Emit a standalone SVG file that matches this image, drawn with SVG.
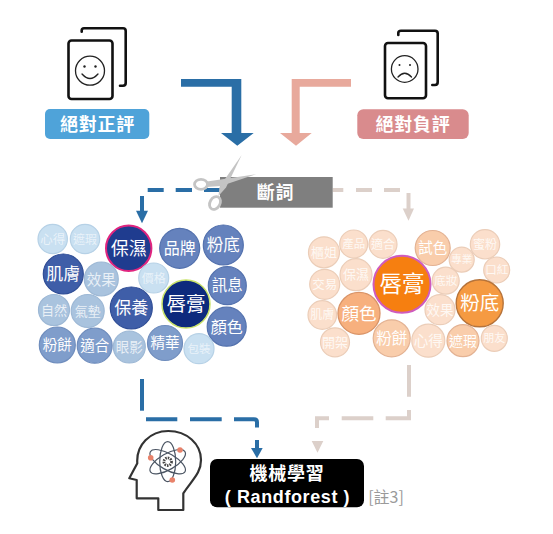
<svg xmlns="http://www.w3.org/2000/svg" width="553" height="534" viewBox="0 0 553 534">
<style>
text{font-family:"Noto Sans CJK TC","Noto Sans CJK SC","Liberation Sans",sans-serif;text-anchor:middle;fill:#fff}
.lab{font-size:18px;font-weight:700;letter-spacing:.8px}
.card{fill:none;stroke:#111;stroke-width:2.6;stroke-linecap:round;stroke-linejoin:round}
.face{fill:none;stroke:#222;stroke-width:1.3;stroke-linecap:round}
.bd{fill:none;stroke:#2a6ea6;stroke-width:4}
.pd{fill:none;stroke:#dcd0ca;stroke-width:4}
.bh{fill:#2a6ea6}.ph{fill:#dcd0ca}
.l0 circle{fill:#0d2a7d;stroke:#c9e36a;stroke-width:1.5}
.l1 circle{fill:#1f3c8f;stroke:#e0257f;stroke-width:2}
.l2 circle{fill:#3f5ea8;stroke:#304e96;stroke-width:1.2}
.l3 circle{fill:#6582bd;stroke:#5472ae;stroke-width:1.2}
.l4 circle{fill:#7f9dcb;stroke:#6f8dbd;stroke-width:1.2}
.l5 circle{fill:#a9c3de;stroke:#9db8d5;stroke-width:1.2}
.l6 circle{fill:#c9e0f1;stroke:#b6d1e6;stroke-width:1.2}
.l5 text{fill-opacity:.75}.l6 text{fill-opacity:.6}
.r0 circle{fill:#f67f10;stroke:#cf5bbd;stroke-width:2}
.r1 circle{fill:#f59a42;stroke:#b6733a;stroke-width:1.4}
.r2 circle{fill:#f7b07e;stroke:#d99468;stroke-width:1.3}
.r3 circle{fill:#f9cdab;stroke:#e3b293;stroke-width:1.2}
.r4 circle{fill:#fbdfcc;stroke:#ebcdb8;stroke-width:1.2}
.r4 text{fill-opacity:.8}
</style>
<g id="connectors">
<path class="bh" d="M181 79H241.3V133H253.7L237.3 145.7 221 133H231.7V86.7H181Z"/>
<path fill="#e8a99c" d="M351 79H291.7V133H280L296 145.7 311.7 133H299.7V86.7H351Z"/>
<path class="bd" d="M147.7 190H163.7M175.7 190H192M204 190H220"/>
<path class="bd" d="M142 196V211"/>
<path class="bh" d="M136 210.7H148L142 223.3Z"/>
<path class="pd" d="M332.7 190H343.3M356 190H372M384 190H400"/>
<path class="pd" d="M408.5 193V209"/>
<path class="ph" d="M402.7 208.5H414L408.5 220.7Z"/>
<path class="bd" d="M142 379V410.7"/>
<path class="bd" d="M146 419.3H177.3M190 419.3H221.7M234 419.3H254Q257 419.3 257 422.3V427.5"/>
<path class="bd" d="M257 440V449"/>
<path class="bh" d="M251 448H262.7L257 458.3Z"/>
<path class="pd" d="M409 365V396.7M409 410V418.3H385.7M373.3 418.3H341.7M329 418.3H317V428"/>
<path class="ph" d="M311.7 441H323.3L317.5 452.7Z"/>
</g>
<g id="node-positive">
<rect class="card" x="68.5" y="40.5" width="44" height="58.5" rx="3"/>
<path class="card" d="M81.7 31.7V30.5Q81.7 28.3 84 28.3H123Q125.7 28.3 125.7 31V83Q125.7 85.7 123 85.7H120"/>
<circle class="face" cx="90" cy="70.7" r="14.5"/>
<circle cx="84.5" cy="66.5" r="1.2" fill="#222"/><circle cx="95.5" cy="66.5" r="1.2" fill="#222"/>
<path class="face" d="M82 74Q90 83 98 74"/>
<rect x="45" y="109" width="104.3" height="30" rx="5" fill="#4fa3d9"/>
<text class="lab" x="97.5" y="130.5">絕對正評</text>
</g>
<g id="node-negative">
<rect class="card" x="385" y="43" width="41" height="55.3" rx="3"/>
<path class="card" d="M398.3 35V33Q398.3 30.7 401 30.7H435Q437.7 30.7 437.7 33.5V82Q437.7 85 435 85H432.3"/>
<circle class="face" cx="404.7" cy="69" r="13.3"/>
<circle cx="399.5" cy="65" r="1" fill="#222"/><circle cx="410" cy="65" r="1" fill="#222"/>
<path class="face" d="M398 77Q404.7 69.5 411.5 77"/>
<rect x="357.3" y="109.3" width="111.4" height="29.7" rx="6" fill="#d98b8d"/>
<text class="lab" x="413" y="130.5">絕對負評</text>
</g>
<g id="node-segment">
<rect x="220" y="177" width="112.7" height="30.7" fill="#7f7f7f"/>
<text class="lab" x="275.5" y="198.5">斷詞</text>
<g fill="#c4c4c4" stroke="none">
<path d="M241.7 155L219.5 187 218.5 196 226 187.5Z"/>
<path d="M256 174.3L207 181.5 206 187 221 186Z"/>
</g>
<ellipse cx="201" cy="184.3" rx="6.5" ry="5" fill="#fff" fill-opacity=".4" stroke="#c4c4c4" stroke-width="2.8"/>
<ellipse cx="215" cy="203" rx="6.8" ry="5" transform="rotate(-60 215 203)" fill="#fff" fill-opacity=".4" stroke="#c4c4c4" stroke-width="2.8"/>
</g>
<g id="node-cloud-positive">
<g class="l6"><circle cx="52.7" cy="239" r="14.7"/><text x="52.7" y="244" font-size="12.5">心得</text></g>
<g class="l6"><circle cx="85" cy="239" r="14.7"/><text x="85" y="244" font-size="12">遮瑕</text></g>
<g class="l1"><circle cx="128.7" cy="248.3" r="22.7"/><text x="128.7" y="254.8" font-size="18">保濕</text></g>
<g class="l3"><circle cx="179.7" cy="248.3" r="20"/><text x="179.7" y="254" font-size="16">品牌</text></g>
<g class="l3"><circle cx="223.3" cy="245" r="20"/><text x="223.3" y="251" font-size="16.5">粉底</text></g>
<g class="l2"><circle cx="63.3" cy="274" r="20"/><text x="63.3" y="280" font-size="17">肌膚</text></g>
<g class="l5"><circle cx="101.3" cy="279" r="17"/><text x="101.3" y="284.5" font-size="14.5">效果</text></g>
<g class="l6"><circle cx="153.7" cy="278" r="15"/><text x="153.7" y="282.5" font-size="12">價格</text></g>
<g class="l3"><circle cx="227.3" cy="285.7" r="19"/><text x="227.3" y="291.3" font-size="15.5">訊息</text></g>
<g class="l2"><circle cx="131.3" cy="308" r="21"/><text x="131.3" y="314" font-size="17">保養</text></g>
<g class="l0"><circle cx="186" cy="304" r="24"/><text x="186" y="310.8" font-size="19.5">唇膏</text></g>
<g class="l5"><circle cx="54" cy="310" r="15.5"/><text x="54" y="315" font-size="13">自然</text></g>
<g class="l5"><circle cx="87.7" cy="311" r="16.5"/><text x="87.7" y="316" font-size="13">氣墊</text></g>
<g class="l3"><circle cx="226.7" cy="326.7" r="19.5"/><text x="226.7" y="332.6" font-size="16">顏色</text></g>
<g class="l4"><circle cx="57.3" cy="345" r="18"/><text x="57.3" y="350.3" font-size="14.5">粉餅</text></g>
<g class="l4"><circle cx="94.7" cy="345.7" r="17.5"/><text x="94.7" y="351" font-size="14.5">適合</text></g>
<g class="l5"><circle cx="129.3" cy="347" r="16"/><text x="129.3" y="352" font-size="13.5">眼影</text></g>
<g class="l4"><circle cx="165" cy="343" r="17.5"/><text x="165" y="348.3" font-size="14.5">精華</text></g>
<g class="l6"><circle cx="199" cy="348.7" r="15"/><text x="199" y="353" font-size="11.5">包裝</text></g>
</g>
<g id="node-cloud-negative">
<g class="r4"><circle cx="324" cy="252.3" r="15.5"/><text x="324" y="257" font-size="13">櫃姐</text></g>
<g class="r4"><circle cx="353.7" cy="244" r="14"/><text x="353.7" y="248" font-size="11.5">產品</text></g>
<g class="r4"><circle cx="383" cy="244.3" r="14"/><text x="383" y="248.5" font-size="12">適合</text></g>
<g class="r3"><circle cx="432.7" cy="248" r="17.5"/><text x="432.7" y="253.2" font-size="14.5">試色</text></g>
<g class="r4"><circle cx="485" cy="244.3" r="14.7"/><text x="485" y="248.6" font-size="12">蜜粉</text></g>
<g class="r4"><circle cx="461.7" cy="259.7" r="12.5"/><text x="461.7" y="263.4" font-size="10.5">專業</text></g>
<g class="r4"><circle cx="496.7" cy="270" r="13"/><text x="496.7" y="274.2" font-size="11.5">口紅</text></g>
<g class="r4"><circle cx="324.7" cy="284.3" r="15"/><text x="324.7" y="288.8" font-size="12.5">交易</text></g>
<g class="r4"><circle cx="356" cy="274.7" r="16"/><text x="356" y="279.3" font-size="13">保濕</text></g>
<g class="r4"><circle cx="445.7" cy="280.7" r="13.5"/><text x="445.7" y="284.8" font-size="11.5">底妝</text></g>
<g class="r0"><circle cx="402" cy="284.3" r="28.5"/><text x="402" y="292.3" font-size="22.5">唇膏</text></g>
<g class="r1"><circle cx="479.7" cy="303.3" r="23.5"/><text x="479.7" y="310.3" font-size="19.5">粉底</text></g>
<g class="r4"><circle cx="440" cy="309.7" r="15"/><text x="440" y="314.7" font-size="13.5">效果</text></g>
<g class="r4"><circle cx="322.3" cy="315" r="14.3"/><text x="322.3" y="319.3" font-size="12">肌膚</text></g>
<g class="r2"><circle cx="359" cy="313.3" r="21"/><text x="359" y="319.5" font-size="17.5">顏色</text></g>
<g class="r4"><circle cx="335" cy="342.3" r="14.5"/><text x="335" y="347" font-size="13">開架</text></g>
<g class="r3"><circle cx="391.7" cy="338.3" r="18.5"/><text x="391.7" y="343.8" font-size="15.5">粉餅</text></g>
<g class="r4"><circle cx="428.3" cy="340.7" r="16.5"/><text x="428.3" y="346" font-size="14.5">心得</text></g>
<g class="r3"><circle cx="463" cy="340.7" r="16"/><text x="463" y="345.7" font-size="14">遮瑕</text></g>
<g class="r4"><circle cx="494.3" cy="338.3" r="13"/><text x="494.3" y="342.3" font-size="11">朋友</text></g>
</g>
<g id="node-ml">
<g fill="none" stroke="#333" stroke-width="2.2" stroke-linejoin="round">
<path d="M183.3 510H158.3V498.3H136.7V480L129.3 478.3 137.3 463.3C136 445 150 431 168.3 431C187 431 201 444 201 460C201 473 193 479 183.3 493.3Z"/>
</g>
<g fill="none" stroke="#4b5563" stroke-width="1.2">
<ellipse cx="167.7" cy="461.7" rx="20" ry="8" transform="rotate(30 167.7 461.7)"/>
<ellipse cx="167.7" cy="461.7" rx="20" ry="8" transform="rotate(-30 167.7 461.7)"/>
<ellipse cx="167.7" cy="461.7" rx="20" ry="8" transform="rotate(90 167.7 461.7)"/>
</g>
<circle cx="167.7" cy="461.7" r="3.8" fill="none" stroke="#444" stroke-width="2.8" stroke-dasharray="1.5 1"/>
<circle cx="180" cy="450" r="2.8" fill="#e8826a"/>
<circle cx="150.7" cy="457.7" r="2.8" fill="#e8826a"/>
<circle cx="172.3" cy="480" r="2.8" fill="#e8826a"/>
<rect x="210" y="459" width="154" height="48.3" rx="7" fill="#000"/>
<text class="lab" x="287" y="480">機械學習</text>
<text x="287.5" y="503" font-size="18" font-weight="700" letter-spacing=".6" style="font-family:'Liberation Sans',sans-serif">( Randforest )</text>
<text x="386" y="503" font-size="16" style="fill:#9a9a9a">[註3]</text>
</g>
</svg>
